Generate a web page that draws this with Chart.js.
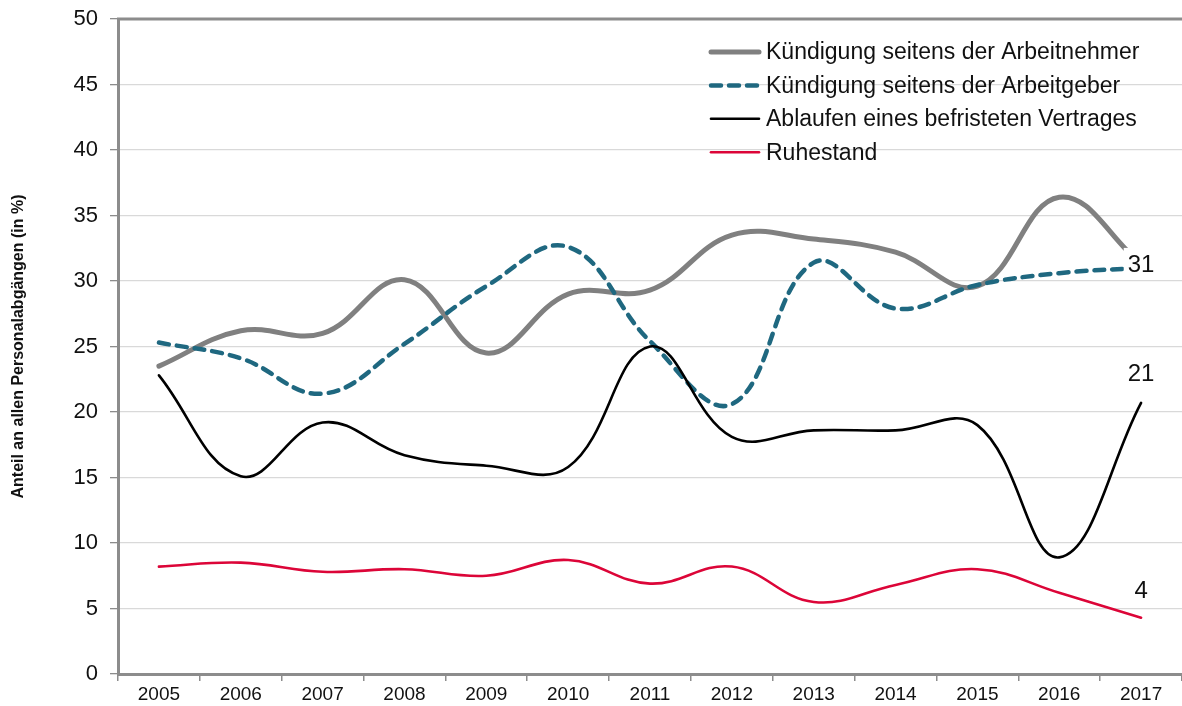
<!DOCTYPE html>
<html>
<head>
<meta charset="utf-8">
<script src="https://cdn.jsdelivr.net/npm/chart.js@4/dist/chart.umd.min.js"></script>
<style>
  html, body { margin: 0; padding: 0; background: #fff; }
  #wrap { width: 1182px; height: 706px; }
</style>
</head>
<body>
<div id="wrap"><canvas id="chart"></canvas></div>
<script>
const years = ['2005', '2006', '2007', '2008', '2009', '2010', '2011', '2012', '2013', '2014', '2015', '2016', '2017'];
const arbeitnehmer = [23.5, 26.2, 26.0, 30.1, 24.5, 29.0, 29.3, 33.5, 33.2, 32.2, 29.6, 36.4, 31.3];
const arbeitgeber = [25.3, 24.1, 21.4, 25.2, 29.6, 32.6, 25.4, 20.6, 31.4, 27.9, 29.7, 30.6, 31.0];
const befristet = [22.8, 15.1, 19.2, 16.7, 15.9, 15.8, 25.0, 18.1, 18.6, 18.6, 19.0, 8.9, 20.7];
const ruhestand = [8.2, 8.5, 7.8, 8.0, 7.5, 8.7, 6.9, 8.2, 5.5, 6.8, 8.0, 6.2, 4.3];
const seriesNames = [
  'Kündigung seitens der Arbeitnehmer',
  'Kündigung seitens der Arbeitgeber',
  'Ablaufen eines befristeten Vertrages',
  'Ruhestand',
];
const endLabels = ['', '31', '21', '4'];
const yTitle = 'Anteil an allen Personalabgängen (in %)';

const FONT = "'Liberation Sans', Arial, sans-serif";
const labelShift = [0, -4, -29, -27];

// legend, top border and end-of-line value labels
const overlay = {
  id: 'overlay',
  afterDatasetsDraw(chart) {
    const ctx = chart.ctx;
    const area = chart.chartArea;
    ctx.save();

    ctx.strokeStyle = '#8c8c8c';
    ctx.lineWidth = 3;
    ctx.beginPath();
    ctx.moveTo(area.left - 1, area.top);
    ctx.lineTo(area.right, area.top);
    ctx.stroke();

    ctx.font = `24px ${FONT}`;
    ctx.textAlign = 'center';
    ctx.textBaseline = 'middle';
    chart.data.datasets.forEach((ds, i) => {
      const text = endLabels[i];
      if (!text) return;
      const meta = chart.getDatasetMeta(i);
      const pt = meta.data[meta.data.length - 1];
      const x = pt.x;
      const y = pt.y + labelShift[i];
      const w = ctx.measureText(text).width;
      ctx.fillStyle = '#fff';
      ctx.fillRect(x - w / 2 - 4, y - 16, w + 8, 30);
      ctx.fillStyle = '#111';
      ctx.fillText(text, x, y + 1);
    });

    ctx.font = `23px ${FONT}`;
    ctx.textAlign = 'left';
    chart.data.datasets.forEach((ds, i) => {
      const y = 52 + i * 33.4;
      ctx.strokeStyle = ds.borderColor;
      ctx.lineWidth = ds.borderWidth;
      ctx.lineCap = 'round';
      ctx.setLineDash(ds.borderDash || []);
      ctx.beginPath();
      ctx.moveTo(711, y);
      ctx.lineTo(759, y);
      ctx.stroke();
      ctx.setLineDash([]);
      ctx.fillStyle = '#111';
      ctx.fillText(ds.label, 766, y + 1);
    });
    ctx.restore();
  },
};

const styles = [
  { color: '#808080', width: 5, dash: [] },
  { color: '#1f6880', width: 4.5, dash: [10, 8] },
  { color: '#000000', width: 2.6, dash: [] },
  { color: '#dc0538', width: 2.6, dash: [] },
];
const values = [arbeitnehmer, arbeitgeber, befristet, ruhestand];

new Chart(document.getElementById('chart'), {
  type: 'line',
  data: {
    labels: years,
    datasets: values.map((data, i) => ({
      label: seriesNames[i],
      data,
      borderColor: styles[i].color,
      borderWidth: styles[i].width,
      borderDash: styles[i].dash,
      borderCapStyle: 'round',
      pointRadius: 0,
      tension: 0.4,
      fill: false,
      order: 4 - i,
    })),
  },
  options: {
    responsive: true,
    maintainAspectRatio: false,
    animation: false,
    layout: { padding: { top: 19, right: -4, left: 0, bottom: 0 } },
    plugins: {
      legend: { display: false },
      tooltip: { enabled: false },
    },
    scales: {
      x: {
        offset: true,
        grid: {
          offset: true,
          drawOnChartArea: false,
          drawTicks: true,
          tickLength: 7,
          tickColor: '#8c8c8c',
          lineWidth: 1.5,
        },
        border: { color: '#8c8c8c', width: 3 },
        ticks: { color: '#111', font: { family: FONT, size: 19 }, padding: 2, maxRotation: 0 },
        afterFit: (s) => {
          s.height = 32;
          s.paddingLeft = 0;
          s.paddingRight = 0;
        },
      },
      y: {
        min: 0,
        max: 50,
        grid: { color: '#d9d9d9', lineWidth: 1.3, tickColor: '#8c8c8c', tickLength: 8 },
        border: { color: '#8c8c8c', width: 3 },
        ticks: { stepSize: 5, color: '#111', font: { family: FONT, size: 22 }, padding: 12 },
        title: {
          display: true,
          text: yTitle,
          color: '#111',
          font: { family: FONT, size: 16, weight: 'bold' },
          padding: { top: 9, bottom: 0 },
        },
        afterFit: (s) => {
          s.width = 118;
          s.paddingTop = 0;
          s.paddingBottom = 0;
        },
      },
    },
  },
  plugins: [overlay],
});
</script>
</body>
</html>
